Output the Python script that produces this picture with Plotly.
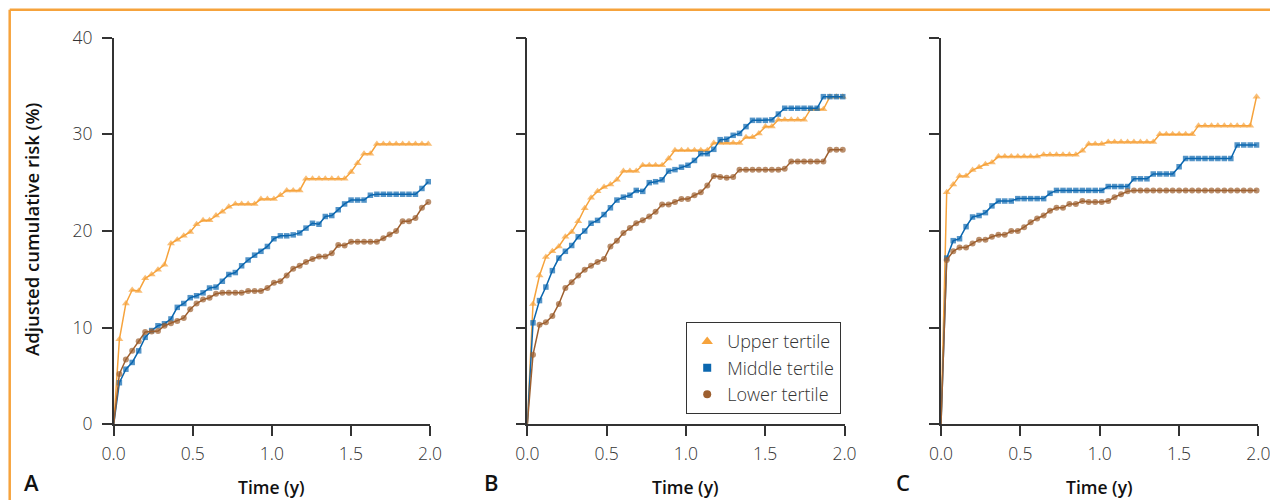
import plotly.graph_objects as go

# Time grid (years) shared by all panels
time_y = [0, 0.036, 0.077, 0.117, 0.158, 0.199, 0.240, 0.280, 0.321, 0.362, 0.402,
          0.443, 0.484, 0.524, 0.565, 0.606, 0.647, 0.687, 0.728, 0.769, 0.809,
          0.850, 0.891, 0.931, 0.972, 1.013, 1.054, 1.094, 1.135, 1.176, 1.216,
          1.257, 1.298, 1.338, 1.379, 1.420, 1.460, 1.501, 1.542, 1.583, 1.623,
          1.664, 1.705, 1.745, 1.786, 1.827, 1.867, 1.908, 1.949, 1.989]

# Panel A
a_upper = [0, 8.8, 12.5, 13.9, 13.8, 15.1, 15.5, 16.0, 16.5, 18.7, 19.1, 19.5, 19.9, 20.7,
           21.1, 21.1, 21.6, 22.0, 22.5, 22.8, 22.8, 22.8, 22.8, 23.3, 23.3, 23.3, 23.7,
           24.2, 24.2, 24.2, 25.4, 25.4, 25.4, 25.4, 25.4, 25.4, 25.4, 26.1, 27.0, 28.0,
           28.0, 29.0, 29.0, 29.0, 29.0, 29.0, 29.0, 29.0, 29.0, 29.0]
a_middle = [0, 4.3, 5.7, 6.4, 7.6, 9.0, 9.7, 10.2, 10.4, 10.9, 12.1, 12.5, 13.1, 13.3, 13.6,
            14.1, 14.2, 14.8, 15.5, 15.7, 16.4, 17.0, 17.5, 17.9, 18.4, 19.2, 19.5, 19.5,
            19.6, 19.8, 20.3, 20.8, 20.7, 21.5, 21.6, 22.2, 22.8, 23.2, 23.2, 23.2, 23.7,
            23.8, 23.8, 23.8, 23.8, 23.8, 23.8, 23.8, 24.4, 25.1]
a_lower = [0, 5.2, 6.7, 7.6, 8.6, 9.55, 9.6, 9.65, 10.2, 10.45, 10.7, 11.0, 11.9, 12.5, 12.9,
           13.1, 13.5, 13.6, 13.6, 13.6, 13.6, 13.8, 13.8, 13.8, 14.1, 14.65, 14.8, 15.4,
           16.1, 16.4, 16.8, 17.1, 17.35, 17.35, 17.7, 18.55, 18.5, 18.9, 18.9, 18.9, 18.9,
           18.9, 19.25, 19.65, 20.0, 21.0, 21.0, 21.35, 22.4, 23.0]

# Panel B
b_upper = [0, 12.45, 15.4, 17.3, 17.9, 18.4, 19.4, 19.9, 21.0, 22.35, 23.45, 24.1, 24.55,
           24.8, 25.3, 26.2, 26.2, 26.2, 26.8, 26.8, 26.8, 26.8, 27.5, 28.35, 28.35, 28.35,
           28.35, 28.35, 28.35, 29.1, 29.1, 29.1, 29.1, 29.1, 29.7, 29.7, 30.1, 30.8, 30.8,
           31.5, 31.5, 31.5, 31.5, 31.5, 32.6, 32.6, 32.6, 33.9, 33.9, 33.9]
b_middle = [0, 10.5, 12.8, 14.2, 15.9, 17.2, 17.9, 18.5, 19.4, 20.0, 20.8, 21.1, 21.7, 22.4,
            23.2, 23.5, 23.7, 24.2, 24.1, 25.0, 25.1, 25.3, 26.2, 26.35, 26.6, 26.8, 27.3,
            28.0, 28.0, 28.45, 29.45, 29.5, 29.9, 30.1, 30.8, 31.45, 31.45, 31.45, 31.5,
            32.1, 32.7, 32.7, 32.7, 32.7, 32.7, 32.7, 33.9, 33.9, 33.9, 33.9]
b_lower = [0, 7.2, 10.3, 10.55, 11.2, 12.45, 14.1, 14.7, 15.4, 16.0, 16.4, 16.8, 17.1, 18.4,
           19.0, 19.8, 20.3, 20.8, 21.1, 21.5, 22.0, 22.75, 22.75, 23.0, 23.3, 23.3, 23.7,
           24.0, 24.7, 25.7, 25.6, 25.5, 25.6, 26.35, 26.35, 26.35, 26.35, 26.35, 26.35,
           26.35, 26.45, 27.2, 27.2, 27.2, 27.2, 27.2, 27.2, 28.4, 28.4, 28.4]

# Panel C
c_upper = [0, 24.0, 24.8, 25.7, 25.7, 26.3, 26.6, 26.9, 27.1, 27.7, 27.7, 27.7, 27.7, 27.7,
           27.7, 27.7, 27.9, 27.9, 27.9, 27.9, 27.9, 27.9, 28.3, 29.0, 29.0, 29.0, 29.2,
           29.2, 29.2, 29.2, 29.2, 29.2, 29.2, 29.2, 30.0, 30.0, 30.0, 30.0, 30.0, 30.0,
           30.9, 30.9, 30.9, 30.9, 30.9, 30.9, 30.9, 30.9, 30.9, 33.9]
c_middle = [0, 17.2, 19.0, 19.2, 20.45, 21.45, 21.6, 21.9, 22.6, 23.1, 23.1, 23.1, 23.35,
            23.35, 23.35, 23.35, 23.35, 23.9, 24.2, 24.2, 24.2, 24.2, 24.2, 24.2, 24.2, 24.2,
            24.6, 24.6, 24.6, 24.6, 25.4, 25.4, 25.4, 25.9, 25.9, 25.9, 25.9, 26.65, 27.5,
            27.5, 27.5, 27.5, 27.5, 27.5, 27.5, 27.5, 28.9, 28.9, 28.9, 28.9]
c_lower = [0, 17.0, 17.9, 18.3, 18.3, 18.7, 19.1, 19.1, 19.4, 19.6, 19.6, 20.0, 20.0, 20.4,
           20.9, 21.3, 21.6, 22.1, 22.4, 22.4, 22.8, 22.8, 23.1, 23.0, 23.0, 23.0, 23.1,
           23.5, 23.8, 24.1, 24.2, 24.2, 24.2, 24.2, 24.2, 24.2, 24.2, 24.2, 24.2, 24.2,
           24.2, 24.2, 24.2, 24.2, 24.2, 24.2, 24.2, 24.2, 24.2, 24.2]

series_names = ["Upper tertile", "Middle tertile", "Lower tertile"]
panel_labels = ["A", "B", "C"]
x_ticks = [0, 0.5, 1.0, 1.5, 2.0]
y_ticks = [0, 10, 20, 30, 40]

ORANGE = "#F6A33C"
BLUE = "#0B67AF"
BROWN = "#9D5F2F"
styles = [
    dict(color=ORANGE, symbol="triangle-up", size=7, lsize=10),
    dict(color=BLUE, symbol="square", size=5.5, lsize=8),
    dict(color=BROWN, symbol="circle", size=6, lsize=8),
]

panels = [
    (a_upper, a_middle, a_lower),
    (b_upper, b_middle, b_lower),
    (c_upper, c_middle, c_lower),
]

# page offset of the figure (body margin) and figure size
OX, OY = 8, 8
W, H = 1270, 492


def px2x(px):
    return (px - OX) / W


def py2y(py):
    return 1 - (py - OY) / H


x_domains = [(113.7, 430.0), (527.3, 844.5), (941.0, 1258.3)]
y_top_px, y_bot_px = 37.7, 424.3

fig = go.Figure()
AXCOL = "#333333"
FONT = "Open Sans"
TICKFONT = dict(family=FONT, size=17.5, color="#333333", weight=300)

for p, series in enumerate(panels):
    suffix = "" if p == 0 else str(p + 1)
    for s, vals in enumerate(series):
        st = styles[s]
        sizes = [0] + [st["size"]] * (len(vals) - 1)
        fig.add_trace(go.Scatter(
            x=time_y, y=vals, mode="lines+markers",
            line=dict(color=st["color"], width=1.5),
            marker=dict(color=st["color"], symbol=st["symbol"], size=sizes, line=dict(width=0)),
            xaxis="x" + suffix, yaxis="y" + suffix,
            showlegend=False, cliponaxis=False, hoverinfo="skip",
        ))
    x0, x1 = x_domains[p]
    fig.layout["xaxis" + suffix] = dict(
        domain=[px2x(x0), px2x(x1)], range=[0, 2], anchor="y" + suffix,
        tickvals=x_ticks, ticktext=["%.1f" % v for v in x_ticks],
        showline=True, linecolor=AXCOL, linewidth=1.5,
        ticks="outside", ticklen=10, tickwidth=1.5, tickcolor=AXCOL,
        showgrid=False, zeroline=False, tickfont=TICKFONT, fixedrange=True,
        automargin=False, ticklabelstandoff=3,
    )
    fig.layout["yaxis" + suffix] = dict(
        domain=[py2y(y_bot_px), py2y(y_top_px)], range=[0, 40], anchor="x" + suffix,
        tickvals=y_ticks, showticklabels=(p == 0),
        showline=True, linecolor=AXCOL, linewidth=1.5,
        ticks="outside", ticklen=10, tickwidth=1.5, tickcolor=AXCOL,
        showgrid=False, zeroline=False, tickfont=TICKFONT, fixedrange=True,
        automargin=False, ticklabelstandoff=6,
    )

# legend-only traces (markers only)
for s, name in enumerate(series_names):
    st = styles[s]
    fig.add_trace(go.Scatter(
        x=[None], y=[None], mode="markers", name=name,
        marker=dict(color=st["color"], symbol=st["symbol"], size=st["lsize"]),
        xaxis="x2", yaxis="y2", showlegend=True,
    ))

TITLEFONT = dict(family=FONT, size=17.5, color="#111111", weight=600)
annotations = []
for p in range(3):
    x0, x1 = x_domains[p]
    annotations.append(dict(
        text="Time (y)", x=px2x((x0 + x1) / 2), y=py2y(487), xref="paper", yref="paper",
        showarrow=False, xanchor="center", yanchor="middle", font=TITLEFONT,
    ))
annotations.append(dict(
    text="Adjusted cumulative risk (%)", x=px2x(32), y=py2y(230), xref="paper", yref="paper",
    showarrow=False, textangle=-90, xanchor="center", yanchor="middle",
    font=dict(family=FONT, size=18.5, color="#111111", weight=600),
))
for lab, cx in zip(panel_labels, [31, 491, 903]):
    annotations.append(dict(
        text=lab, x=px2x(cx), y=py2y(499), xref="paper", yref="paper",
        showarrow=False, xanchor="center", yanchor="bottom",
        font=dict(family=FONT, size=22, color="#111111", weight=600),
    ))

shapes = [
    dict(type="line", xref="paper", yref="paper", x0=px2x(9.7), x1=1, y0=py2y(9.7), y1=py2y(9.7),
         line=dict(color=ORANGE, width=2.5)),
    dict(type="line", xref="paper", yref="paper", x0=px2x(9.7), x1=px2x(9.7), y0=0, y1=py2y(9.7),
         line=dict(color=ORANGE, width=2.5)),
]

fig.update_layout(
    width=W, height=H, margin=dict(l=0, r=0, t=0, b=0, pad=0, autoexpand=False),
    paper_bgcolor="white", plot_bgcolor="white",
    annotations=annotations, shapes=shapes,
    legend=dict(
        x=px2x(841), y=py2y(368), xanchor="right", yanchor="middle",
        bordercolor="#333333", borderwidth=1.2, bgcolor="white",
        font=dict(family=FONT, size=18, color="#333333", weight=300),
        itemwidth=30, tracegroupgap=0,
    ),
)

fig.write_html("out.html")
